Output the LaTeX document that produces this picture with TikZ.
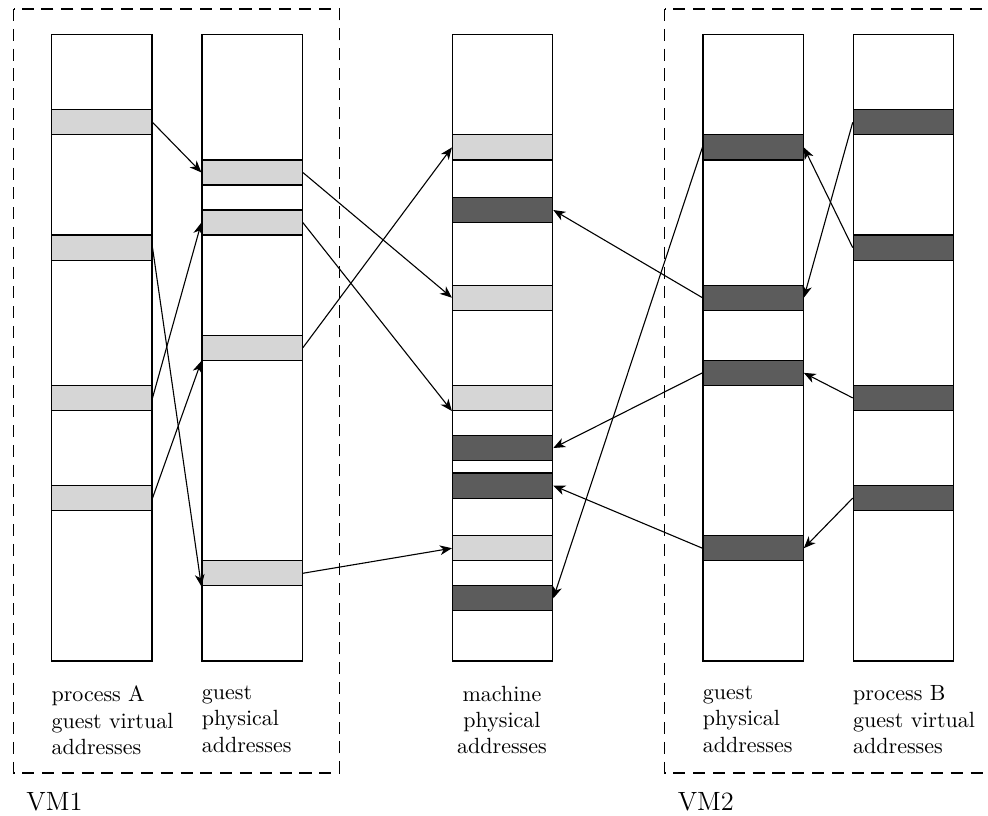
\documentclass[tikz,border=0pt]{standalone}
\usepackage{amsmath}
\usepackage{tikz}
\usetikzlibrary{arrows.meta}

\tikzset{
  memcol/.style={draw, line width=0.55pt, anchor=north west, inner sep=0pt,
    minimum width=1.6cm, minimum height=10cm},
  guestpage/.style={draw, line width=0.55pt, fill=black!16, anchor=north west,
    inner sep=0pt, minimum width=1.6cm, minimum height=0.4cm},
  hostpage/.style={guestpage, fill=black!64},
  vmbox/.style={line width=0.55pt, dash pattern=on 5.5pt off 3.5pt},
  maplink/.style={-{Stealth[length=5.4pt, width=4.4pt, inset=1.6pt]}, line width=0.5pt},
  addrlabel/.style={anchor=north west, inner sep=0pt, align=left}
}

\begin{document}
\begin{tikzpicture}[x=0.4cm, y=-0.4cm]
        \useasboundingbox (-2.04,-1.36) rectangle (37.4,31.2);

        % Draw VM frames
        \draw[vmbox] (-1.5,-1) rectangle (11.5,29.5);
        \draw[vmbox] (24.5,-1) rectangle (37.5,29.5);
        \node[anchor=base west, inner sep=0pt, font=\large] (vm1) at (-1,31) {VM1};
        \node[anchor=base west, inner sep=0pt, font=\large] (vm2) at (25,31) {VM2};

        % Draw address spaces
        \node[memcol] (colA) at (0,0) {};
        \node[memcol] (colGA) at (6,0) {};
        \node[memcol] (colM) at (16,0) {};
        \node[memcol] (colGB) at (26,0) {};
        \node[memcol] (colB) at (32,0) {};

        % Pages of VM1
        \foreach \y [count=\i] in {3,8,14,18}
            \node[guestpage] (vaA\i) at (0,\y) {};
        \foreach \y [count=\i] in {5,7,12,21}
            \node[guestpage] (gpA\i) at (6,\y) {};
        \foreach \y [count=\i] in {4,10,14,20}
            \node[guestpage] (mA\i) at (16,\y) {};

        % Pages of VM2
        \foreach \y [count=\i] in {6.5,16,17.5,22}
            \node[hostpage] (mB\i) at (16,\y) {};
        \foreach \y [count=\i] in {4,10,13,20}
            \node[hostpage] (gpB\i) at (26,\y) {};
        \foreach \y [count=\i] in {3,8,14,18}
            \node[hostpage] (vaB\i) at (32,\y) {};

        % Mappings of VM1
        \draw[maplink] (vaA1.east) -- (gpA1.west);
        \draw[maplink] (vaA2.east) -- (gpA4.south west);
        \draw[maplink] (vaA3.east) -- (gpA2.west);
        \draw[maplink] (vaA4.east) -- (gpA3.south west);
        \draw[maplink] (gpA1.east) -- (mA2.west);
        \draw[maplink] (gpA2.east) -- (mA3.south west);
        \draw[maplink] (gpA3.east) -- (mA1.west);
        \draw[maplink] (gpA4.east) -- (mA4.west);

        % Mappings of VM2
        \draw[maplink] (vaB1.west) -- (gpB2.east);
        \draw[maplink] (vaB2.west) -- (gpB1.east);
        \draw[maplink] (vaB3.west) -- (gpB3.east);
        \draw[maplink] (vaB4.west) -- (gpB4.east);
        \draw[maplink] (gpB1.west) -- (mB4.east);
        \draw[maplink] (gpB2.west) -- (mB1.east);
        \draw[maplink] (gpB3.west) -- (mB2.east);
        \draw[maplink] (gpB4.west) -- (mB3.east);

        % Labels
        \node[addrlabel] (lblA) at (0,26) {process A\\guest virtual\\addresses};
        \node[addrlabel] (lblGA) at (6,26) {guest\\physical\\addresses};
        \node[anchor=north, inner sep=0pt, align=center] (lblM) at (18,26) {machine\\physical\\addresses};
        \node[addrlabel] (lblGB) at (26,26) {guest\\physical\\addresses};
        \node[addrlabel] (lblB) at (32,26) {process B\\guest virtual\\addresses};
    \end{tikzpicture}
\end{document}
